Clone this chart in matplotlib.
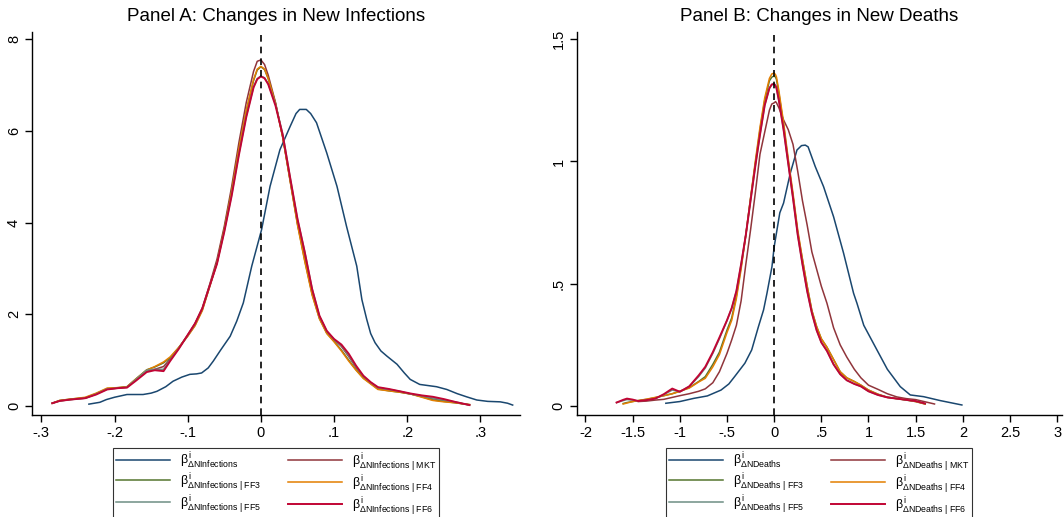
import matplotlib
matplotlib.use("Agg")
import matplotlib.pyplot as plt
from matplotlib.ticker import FixedLocator, FixedFormatter

plt.rcParams['font.family'] = ['Liberation Sans', 'DejaVu Sans']
plt.rcParams['mathtext.fontset'] = 'custom'
plt.rcParams['mathtext.rm'] = 'Liberation Sans'
plt.rcParams['mathtext.it'] = 'Liberation Sans'
plt.rcParams['mathtext.bf'] = 'Liberation Sans:bold'
plt.rcParams['mathtext.sf'] = 'Liberation Sans'

# Stata s2color palette
colors = ['#1a476f', '#90353b', '#55752f', '#e37e00', '#6e8e84', '#c10534']
suffixes = ['', ' | MKT', ' | FF3', ' | FF4', ' | FF5', ' | FF6']

# ---------------- Panel A: changes in new infections ----------------
a_base_x = [-0.235, -0.22, -0.211, -0.2, -0.183, -0.17, -0.161, -0.15, -0.142, -0.13,
            -0.12, -0.108, -0.097, -0.088, -0.081, -0.072, -0.065, -0.055, -0.042, -0.033,
            -0.024, -0.0125, 0.001, 0.0125, 0.026, 0.04, 0.048, 0.053, 0.062, 0.068,
            0.076, 0.09, 0.104, 0.117, 0.131, 0.138, 0.1446, 0.15, 0.156, 0.164,
            0.172, 0.186, 0.196, 0.204, 0.217, 0.24, 0.254, 0.268, 0.281, 0.295,
            0.31, 0.327, 0.337, 0.344]
a_base_y = [0.04, 0.08, 0.14, 0.19, 0.25, 0.25, 0.25, 0.28, 0.32, 0.42,
            0.54, 0.63, 0.69, 0.70, 0.72, 0.83, 0.98, 1.22, 1.52, 1.85,
            2.25, 3.05, 3.85, 4.79, 5.59, 6.10, 6.38, 6.47, 6.47, 6.38,
            6.18, 5.52, 4.79, 3.92, 3.05, 2.32, 1.89, 1.58, 1.38, 1.20,
            1.09, 0.91, 0.72, 0.58, 0.47, 0.42, 0.36, 0.27, 0.20, 0.13,
            0.10, 0.09, 0.06, 0.02]

a_grid = [-0.285, -0.275, -0.26, -0.24, -0.225, -0.21, -0.195, -0.183, -0.17, -0.156,
          -0.145, -0.133, -0.124, -0.112, -0.1, -0.09, -0.08, -0.07, -0.06, -0.05,
          -0.04, -0.03, -0.02, -0.01, -0.005, 0.0, 0.005, 0.01, 0.02, 0.03,
          0.04, 0.05, 0.06, 0.07, 0.08, 0.09, 0.1, 0.11, 0.12, 0.13,
          0.14, 0.15, 0.16, 0.175, 0.19, 0.205, 0.22, 0.235, 0.25, 0.265, 0.285]
a_mkt = [0.06, 0.11, 0.14, 0.17, 0.26, 0.37, 0.39, 0.41, 0.58, 0.76,
         0.80, 0.86, 1.02, 1.27, 1.55, 1.80, 2.14, 2.65, 3.20, 3.92,
         4.78, 5.75, 6.62, 7.30, 7.52, 7.55, 7.45, 7.22, 6.62, 5.85,
         4.92, 4.00, 3.25, 2.50, 1.95, 1.62, 1.45, 1.30, 1.08, 0.84,
         0.63, 0.50, 0.40, 0.36, 0.31, 0.26, 0.21, 0.16, 0.12, 0.08, 0.02]
a_ff3 = [0.06, 0.12, 0.15, 0.18, 0.27, 0.38, 0.40, 0.42, 0.60, 0.79,
         0.85, 0.94, 1.05, 1.28, 1.53, 1.76, 2.10, 2.61, 3.13, 3.86,
         4.68, 5.60, 6.43, 7.10, 7.33, 7.40, 7.34, 7.14, 6.60, 5.86,
         4.92, 3.97, 3.17, 2.44, 1.91, 1.59, 1.41, 1.22, 1.00, 0.79,
         0.61, 0.49, 0.37, 0.33, 0.30, 0.26, 0.20, 0.13, 0.10, 0.07, 0.03]
a_ff4 = [0.06, 0.12, 0.15, 0.19, 0.28, 0.39, 0.40, 0.42, 0.60, 0.78,
         0.86, 0.96, 1.07, 1.28, 1.52, 1.75, 2.08, 2.60, 3.12, 3.85,
         4.68, 5.62, 6.45, 7.12, 7.35, 7.41, 7.35, 7.15, 6.60, 5.85,
         4.90, 3.95, 3.15, 2.42, 1.90, 1.58, 1.40, 1.20, 0.98, 0.78,
         0.60, 0.48, 0.36, 0.33, 0.30, 0.26, 0.19, 0.12, 0.09, 0.07, 0.03]
a_ff5 = [0.06, 0.11, 0.14, 0.17, 0.26, 0.37, 0.39, 0.41, 0.59, 0.78,
         0.80, 0.80, 1.00, 1.26, 1.54, 1.79, 2.13, 2.62, 3.11, 3.81,
         4.60, 5.50, 6.32, 6.96, 7.14, 7.20, 7.16, 7.03, 6.58, 5.93,
         4.98, 4.08, 3.36, 2.56, 1.96, 1.63, 1.45, 1.32, 1.10, 0.86,
         0.65, 0.51, 0.40, 0.36, 0.32, 0.26, 0.22, 0.17, 0.13, 0.09, 0.02]
a_ff6 = [0.06, 0.11, 0.14, 0.17, 0.25, 0.36, 0.39, 0.40, 0.56, 0.74,
         0.78, 0.76, 0.98, 1.25, 1.55, 1.80, 2.13, 2.62, 3.10, 3.80,
         4.58, 5.48, 6.30, 6.95, 7.13, 7.19, 7.15, 7.02, 6.55, 5.90,
         4.98, 4.08, 3.35, 2.55, 1.97, 1.64, 1.46, 1.34, 1.14, 0.88,
         0.66, 0.52, 0.41, 0.37, 0.32, 0.27, 0.23, 0.20, 0.15, 0.09, 0.02]

# ---------------- Panel B: changes in new deaths ----------------
b_base_x = [-1.148, -1.0, -0.852, -0.708, -0.563, -0.48, -0.419, -0.31, -0.238, -0.166,
            -0.112, -0.076, -0.023, 0.0, 0.03, 0.06, 0.10, 0.171, 0.242, 0.29,
            0.33, 0.36, 0.436, 0.524, 0.63, 0.736, 0.842, 0.878, 0.95, 1.09,
            1.2, 1.337, 1.443, 1.584, 1.76, 1.99]
b_base_y = [0.011, 0.018, 0.031, 0.041, 0.065, 0.09, 0.12, 0.175, 0.229, 0.325,
            0.393, 0.461, 0.57, 0.65, 0.72, 0.79, 0.83, 0.952, 1.047, 1.065,
            1.067, 1.06, 0.979, 0.897, 0.774, 0.625, 0.461, 0.42, 0.33, 0.229,
            0.15, 0.079, 0.045, 0.038, 0.022, 0.004]

b_grid = [-1.67, -1.6, -1.56, -1.5, -1.44, -1.35, -1.26, -1.17, -1.08, -1.0,
          -0.9, -0.8, -0.73, -0.65, -0.58, -0.5, -0.45, -0.4, -0.35, -0.3,
          -0.25, -0.2, -0.15, -0.1, -0.05, -0.025, 0.0, 0.015, 0.025, 0.05,
          0.1, 0.15, 0.2, 0.25, 0.3, 0.35, 0.4, 0.45, 0.5, 0.56,
          0.63, 0.7, 0.77, 0.85, 0.92, 1.0, 1.1, 1.2, 1.3, 1.4,
          1.5, 1.6, 1.7]
nan = float('nan')
b_mkt = [nan, nan, nan, nan, 0.018, 0.02, 0.024, 0.027, 0.035, 0.042,
         0.05, 0.06, 0.07, 0.095, 0.14, 0.215, 0.27, 0.33, 0.43, 0.58,
         0.72, 0.87, 1.03, 1.12, 1.21, 1.235, 1.24, 1.245, 1.24, 1.22,
         1.17, 1.13, 1.07, 0.96, 0.84, 0.74, 0.63, 0.56, 0.49, 0.42,
         0.32, 0.25, 0.20, 0.15, 0.115, 0.085, 0.068, 0.05, 0.037, 0.03,
         0.026, 0.017, 0.008]
b_ff3 = [nan, 0.010, 0.014, 0.018, 0.022, 0.027, 0.034, 0.042, 0.050, 0.060,
         0.075, 0.10, 0.12, 0.17, 0.22, 0.31, 0.36, 0.45, 0.57, 0.70,
         0.85, 0.99, 1.13, 1.25, 1.33, 1.345, 1.35, 1.345, 1.335, 1.28,
         1.15, 1.00, 0.86, 0.71, 0.60, 0.49, 0.39, 0.325, 0.275, 0.24,
         0.19, 0.14, 0.115, 0.10, 0.085, 0.065, 0.048, 0.036, 0.03, 0.024,
         0.018, 0.008, nan]
b_ff4 = [nan, 0.008, 0.012, 0.018, 0.022, 0.028, 0.035, 0.042, 0.050, 0.060,
         0.073, 0.098, 0.113, 0.16, 0.21, 0.30, 0.35, 0.44, 0.56, 0.70,
         0.85, 1.00, 1.14, 1.26, 1.34, 1.358, 1.362, 1.355, 1.345, 1.29,
         1.16, 1.01, 0.87, 0.72, 0.60, 0.49, 0.39, 0.325, 0.275, 0.24,
         0.19, 0.14, 0.115, 0.10, 0.085, 0.065, 0.048, 0.035, 0.03, 0.025,
         0.018, 0.008, nan]
b_ff5 = [0.014, 0.022, 0.026, 0.024, 0.020, 0.024, 0.030, 0.046, 0.065, 0.058,
         0.08, 0.12, 0.155, 0.215, 0.275, 0.35, 0.40, 0.47, 0.58, 0.70,
         0.84, 0.98, 1.11, 1.23, 1.30, 1.315, 1.318, 1.31, 1.30, 1.25,
         1.13, 0.99, 0.85, 0.70, 0.58, 0.47, 0.38, 0.31, 0.26, 0.225,
         0.17, 0.13, 0.105, 0.09, 0.08, 0.06, 0.045, 0.035, 0.03, 0.025,
         0.02, 0.01, nan]
b_ff6 = [0.014, 0.025, 0.030, 0.026, 0.020, 0.024, 0.030, 0.048, 0.071, 0.058,
         0.08, 0.125, 0.16, 0.22, 0.28, 0.35, 0.40, 0.47, 0.58, 0.70,
         0.84, 0.98, 1.11, 1.23, 1.30, 1.315, 1.317, 1.31, 1.30, 1.25,
         1.13, 0.99, 0.85, 0.70, 0.58, 0.47, 0.38, 0.31, 0.26, 0.225,
         0.17, 0.13, 0.105, 0.09, 0.08, 0.06, 0.045, 0.035, 0.03, 0.025,
         0.02, 0.01, nan]

a_xticks = [-0.3, -0.2, -0.1, 0, 0.1, 0.2, 0.3]
a_xlabels = ['-.3', '-.2', '-.1', '0', '.1', '.2', '.3']
a_yticks = [0, 2, 4, 6, 8]
a_ylabels = ['0', '2', '4', '6', '8']
b_xticks = [-2, -1.5, -1, -0.5, 0, 0.5, 1, 1.5, 2, 2.5, 3]
b_xlabels = ['-2', '-1.5', '-1', '-.5', '0', '.5', '1', '1.5', '2', '2.5', '3']
b_yticks = [0, 0.5, 1, 1.5]
b_ylabels = ['0', '.5', '1', '1.5']

fig = plt.figure(figsize=(10.64, 5.17), dpi=100)
ax_a = fig.add_axes([0.0301, 0.1973, 0.4586, 0.7414])
ax_b = fig.add_axes([0.5420, 0.1973, 0.4560, 0.7414])


def style_axis(ax, xticks, xlabels, yticks, ylabels, xlim, ylim):
    ax.set_xlim(*xlim)
    ax.set_ylim(*ylim)
    ax.xaxis.set_major_locator(FixedLocator(xticks))
    ax.xaxis.set_major_formatter(FixedFormatter(xlabels))
    ax.yaxis.set_major_locator(FixedLocator(yticks))
    ax.yaxis.set_major_formatter(FixedFormatter(ylabels))
    for s in ['top', 'right']:
        ax.spines[s].set_visible(False)
    for s in ['left', 'bottom']:
        ax.spines[s].set_linewidth(1.0)
    ax.tick_params(direction='out', length=5, width=1.0, labelsize=10.5, pad=3)
    for lab in ax.get_yticklabels():
        lab.set_rotation(90)
        lab.set_va('center')
    ax.axvline(0, color='black', linestyle=(0, (4, 3)), linewidth=1.2, zorder=10)


def draw_panel(ax, base_x, base_y, grid, series, name):
    names = [r'$\beta^{i}_{\Delta\mathrm{' + name + s.replace(' ', r'\ ') + '}}$'
             for s in suffixes]
    ax.plot(base_x, base_y, color=colors[0], lw=1.1, label=names[0])
    for k, ys in enumerate(series):
        ax.plot(grid, ys, color=colors[k + 1], lw=1.1 if k < 4 else 1.4, label=names[k + 1])
    handles, labels = ax.get_legend_handles_labels()
    order = [0, 2, 4, 1, 3, 5]
    leg = ax.legend([handles[i] for i in order], [labels[i] for i in order],
                    loc='upper center', bbox_to_anchor=(0.5, -0.07), ncol=2,
                    frameon=True, fancybox=False, edgecolor='black', fontsize=9,
                    handlelength=4.3, handletextpad=0.8, columnspacing=2.2,
                    labelspacing=0.0, borderpad=0.2)
    leg.get_frame().set_linewidth(0.8)


draw_panel(ax_a, a_base_x, a_base_y, a_grid, [a_mkt, a_ff3, a_ff4, a_ff5, a_ff6], 'NInfections')
style_axis(ax_a, a_xticks, a_xlabels, a_yticks, a_ylabels, (-0.3127, 0.354), (-0.197, 8.166))
ax_a.set_title('Panel A: Changes in New Infections', fontsize=13.5, pad=8)

draw_panel(ax_b, b_base_x, b_base_y, b_grid, [b_mkt, b_ff3, b_ff4, b_ff5, b_ff6], 'NDeaths')
style_axis(ax_b, b_xticks, b_xlabels, b_yticks, b_ylabels, (-2.093, 3.05), (-0.037, 1.531))
ax_b.set_title('Panel B: Changes in New Deaths', fontsize=13.5, pad=8)

fig.savefig('out.png', dpi=100)
